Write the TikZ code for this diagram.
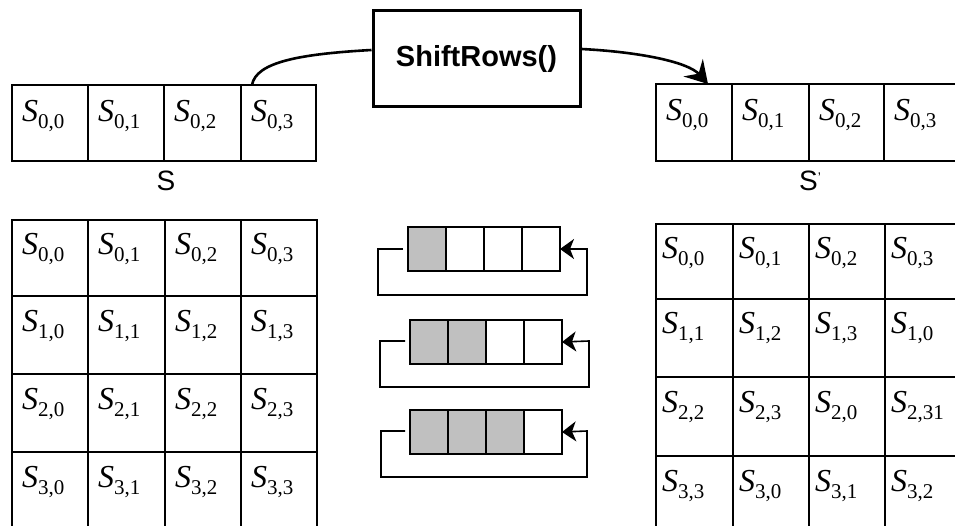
\documentclass[tikz,border=0pt]{standalone}
\usepackage{fontspec}
\setmainfont{Liberation Serif}
\setsansfont{Liberation Sans}
\usetikzlibrary{arrows.meta,calc}
\newcommand{\sv}[1]{{\fontsize{32}{32}\selectfont\itshape S}\raisebox{-7pt}{\fontsize{21}{21}\selectfont #1}}
\definecolor{shade}{HTML}{C0C0C0}
\tikzset{
  cell/.style={draw=black, line width=1.6pt, rectangle, inner sep=0pt, outer sep=0pt, anchor=north west},
  celltext/.style={anchor=base west, inner sep=0pt},
  bar/.style={draw=black, line width=1.8pt, rectangle, inner sep=0pt, outer sep=0pt, anchor=north west, minimum width=38pt, minimum height=44pt},
  looparrow/.style={line width=1.6pt, -{Stealth[length=14pt,width=20pt,inset=4pt]}},
  sans/.style={font=\sffamily\fontsize{28}{28}\selectfont, inner sep=0pt},
}
\begin{document}
\begin{tikzpicture}[x=1pt,y=-1pt]
\useasboundingbox[fill=white] (0,0) rectangle (955,526);

% ---- top-left row S
\foreach \c/\xa/\xb in {0/12/88,1/88/164,2/164/241,3/241/316}{
  \node[cell, minimum width={\xb-\xa}, minimum height=76pt] (T\c) at (\xa,85) {};
  \node[celltext] (Tt\c) at ([xshift=10pt,yshift=-37pt]T\c.north west) {\sv{0,\c}};
}
\node[sans] (labS) at (166,181) {S};

% ---- top-right row S'
\foreach \c/\xa/\xb in {0/656/732,1/732/809,2/809/884,3/884/960}{
  \node[cell, minimum width={\xb-\xa}, minimum height=77pt] (U\c) at (\xa,84) {};
  \node[celltext] (Ut\c) at ([xshift=10pt,yshift=-37pt]U\c.north west) {\sv{0,\c}};
}
\node[sans] (labSp) at (810,181) {S\raisebox{8pt}{\fontsize{14}{14}\selectfont ’}};

% ---- ShiftRows box
\node[draw=black, line width=3pt, minimum width=207pt, minimum height=96pt, inner sep=0pt,
      font=\sffamily\bfseries\fontsize{29}{29}\selectfont] (SR) at (476.5,59) {ShiftRows()};

\coordinate (cstart) at ([xshift=11pt]T3.north west);
\draw[line width=2.6pt] (cstart) .. controls (256,62) and (300,54) .. ([yshift=9pt]SR.west);
\coordinate (cend) at ([xshift=14pt]U0.north);
\draw[line width=2.6pt, -{Stealth[length=22pt,width=26pt,inset=8pt]}]
  ([yshift=10pt]SR.east) .. controls (640,52) and (688,62) .. (cend);

% ---- left 4x4 grid
\foreach \r/\ya/\yb in {0/220/296,1/296/374,2/374/452,3/452/530}{
  \foreach \c/\xa/\xb in {0/12/88,1/88/165,2/165/241,3/241/317}{
    \node[cell, minimum width={\xb-\xa}, minimum height={\yb-\ya}] (L\r\c) at (\xa,\ya) {};
    \node[celltext] (Lt\r\c) at ([xshift=10pt,yshift=-35pt]L\r\c.north west) {\sv{\r,\c}};
  }
}

% ---- right 4x4 grid
\foreach \r/\ya/\yb/\la/\lb/\lc/\ld in {
  0/224/299/{0,0}/{0,1}/{0,2}/{0,3},
  1/299/377/{1,1}/{1,2}/{1,3}/{1,0},
  2/377/456/{2,2}/{2,3}/{2,0}/{2,31},
  3/456/534/{3,3}/{3,0}/{3,1}/{3,2}}{
  \node[cell, minimum width=77pt, minimum height={\yb-\ya}] (R\r0) at (656,\ya) {};
  \node[cell, minimum width=76pt, minimum height={\yb-\ya}] (R\r1) at (733,\ya) {};
  \node[cell, minimum width=76pt, minimum height={\yb-\ya}] (R\r2) at (809,\ya) {};
  \node[cell, minimum width=76pt, minimum height={\yb-\ya}] (R\r3) at (885,\ya) {};
  \node[celltext] (Rt\r0) at ([xshift=6pt,yshift=-35pt]R\r0.north west) {\sv{\la}};
  \node[celltext] (Rt\r1) at ([xshift=6pt,yshift=-35pt]R\r1.north west) {\sv{\lb}};
  \node[celltext] (Rt\r2) at ([xshift=6pt,yshift=-35pt]R\r2.north west) {\sv{\lc}};
  \node[celltext] (Rt\r3) at ([xshift=6pt,yshift=-35pt]R\r3.north west) {\sv{\ld}};
}

% ---- shift illustrations
\foreach \k/\x/\y/\ly/\by/\lx/\rx/\n in {1/408/227/249/295/378/587/1,2/410/320/341/387/380/589/2,3/410/410/431/477/381/587/3}{
  \foreach \c in {1,2,3,4}{
    \pgfmathsetmacro{\cx}{\x+(\c-1)*38}
    \ifnum\c>\n
      \node[bar] (M\k\c) at (\cx,\y) {};
    \else
      \node[bar, fill=shade] (M\k\c) at (\cx,\y) {};
    \fi
  }
  \coordinate (S\k) at (\x-5,\ly);
  \draw[looparrow] (S\k) -- (\lx,\ly) -- (\lx,\by) -- (\rx,\by) -- (\rx,\ly) -- (M\k4.east);
}
\end{tikzpicture}
\end{document}
